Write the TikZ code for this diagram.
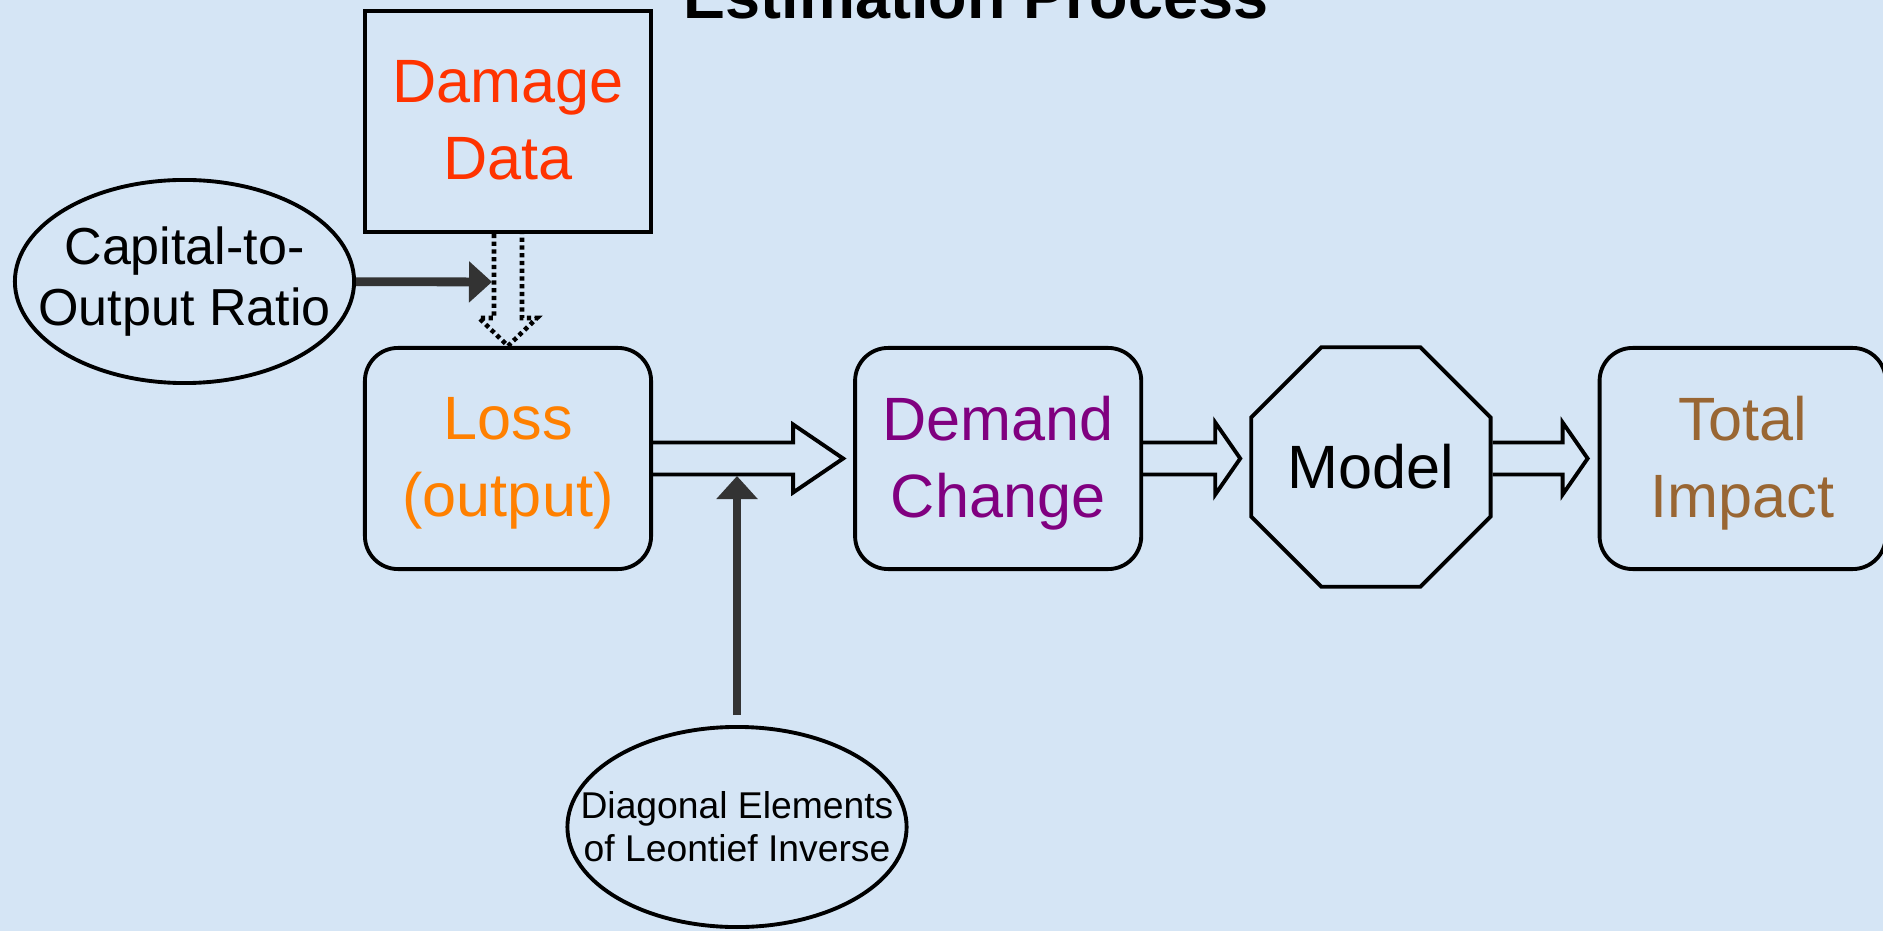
\documentclass[tikz,border=0pt]{standalone}
\usepackage{fontspec}
\setmainfont{Liberation Sans}
\usepackage{tikz}
\usetikzlibrary{positioning,shapes.geometric,arrows.meta,calc}
\definecolor{bgblue}{RGB}{213,229,245}
\definecolor{dmgred}{RGB}{255,51,0}
\definecolor{lossorange}{RGB}{255,128,0}
\definecolor{dempurple}{RGB}{128,0,128}
\definecolor{totbrown}{RGB}{153,102,51}
\definecolor{feedgray}{RGB}{51,51,51}
\newcommand{\boxfont}{\fontsize{17.4pt}{22pt}\selectfont}
\newcommand{\capfont}{\fontsize{14.8pt}{17.6pt}\selectfont}
\newcommand{\leonfont}{\fontsize{10.6pt}{12.2pt}\selectfont}
\newcommand{\titlefont}{\fontsize{17.9pt}{21pt}\selectfont\bfseries}
% same depth for every last line
\newcommand{\lastln}[1]{\raisebox{0pt}[\height][0.03cm]{#1}}
\tikzset{
  block/.style={draw, line width=1.1pt, minimum width=2.86cm, minimum height=2.21cm, align=center, font=\boxfont},
  rblock/.style={block, rounded corners=0.33cm},
  octa/.style={draw, line width=1.1pt, regular polygon, regular polygon sides=8, minimum size=2.59cm, inner sep=0pt, font=\boxfont},
  oval/.style={draw, ellipse, line width=1.1pt, minimum width=3.39cm, inner sep=0pt},
  ovaltext/.style={align=center, inner sep=0pt},
  hollow/.style={draw, line width=1.1pt},
  feed/.style={draw=feedgray, line width=2.5pt, -{Triangle[length=0.23cm,width=0.40cm]}},
}
% start, tip, head length, head half width
\newcommand{\blockarrow}[4]{%
  \draw[hollow] let \p1=#1, \p2=#2 in
    (\x1,\y1+0.16cm) -- (\x2-#3,\y1+0.16cm) -- (\x2-#3,\y1+#4) -- (\x2,\y1)
    -- (\x2-#3,\y1-#4) -- (\x2-#3,\y1-0.16cm) -- (\x1,\y1-0.16cm);}

\begin{document}
\begin{tikzpicture}[x=0.01cm, y=-0.01cm]
  \fill[bgblue] (0,0) rectangle (1883,931);
  \useasboundingbox (0,0) rectangle (1883,931);
  \node[font=\titlefont, anchor=base] (title) at (976,19) {Estimation Process};

  \node[rblock, text=lossorange] (loss) at (508,458.5) {Loss\\\lastln{(output)}};
  \node[block, text=dmgred, above=1.12cm of loss] (dmg) {Damage\\\lastln{Data}};
  \node[rblock, text=dempurple, right=2cm of loss] (dem) {Demand\\\lastln{Change}};
  \node[octa, right=1.06cm of dem, yshift=-0.085cm] (model) {Model};
  \node[rblock, text=totbrown, right=1.05cm of model, yshift=0.085cm] (tot) {Total\\\lastln{Impact}};
  \node[oval, minimum height=2.03cm,
        label={[ovaltext, font=\capfont]center:Capital-to-\\Output Ratio}] (cap) at (184.5,281.5) {};
  \node[oval, minimum height=2cm,
        label={[ovaltext, font=\leonfont]center:Diagonal Elements\\of Leontief Inverse}] (leon) at (737,827) {};

  % main flow
  \blockarrow{(loss.east)}{($(dem.west)+(-10,0)$)}{0.5cm}{0.34cm}
  \blockarrow{(dem.east)}{($(model.west |- dem.west)+(-9,0)$)}{0.25cm}{0.36cm}
  \blockarrow{(model.east |- tot.west)}{($(tot.west)+(-10,0)$)}{0.25cm}{0.36cm}

  % damage data feeds the loss
  \draw[hollow, line width=1.3pt, dash pattern=on 1.2pt off 1pt]
    let \p1=(dmg.south), \p2=(loss.north) in
    (\x1-0.14cm,\y1) -- (\x1-0.14cm,\y2+0.28cm) -- (\x1-0.29cm,\y2+0.28cm) -- (\x1,\y2)
    -- (\x1+0.29cm,\y2+0.28cm) -- (\x1+0.14cm,\y2+0.28cm) -- (\x1+0.14cm,\y1);

  \coordinate (capin) at ($(dmg.south)+(-16,48)$);
  \coordinate (leonin) at (leon.north |- 0,476);
  \draw[feed] (cap) -- (capin);
  \draw[feed, shorten <=0.1cm] (leon) -- (leonin);
\end{tikzpicture}
\end{document}
